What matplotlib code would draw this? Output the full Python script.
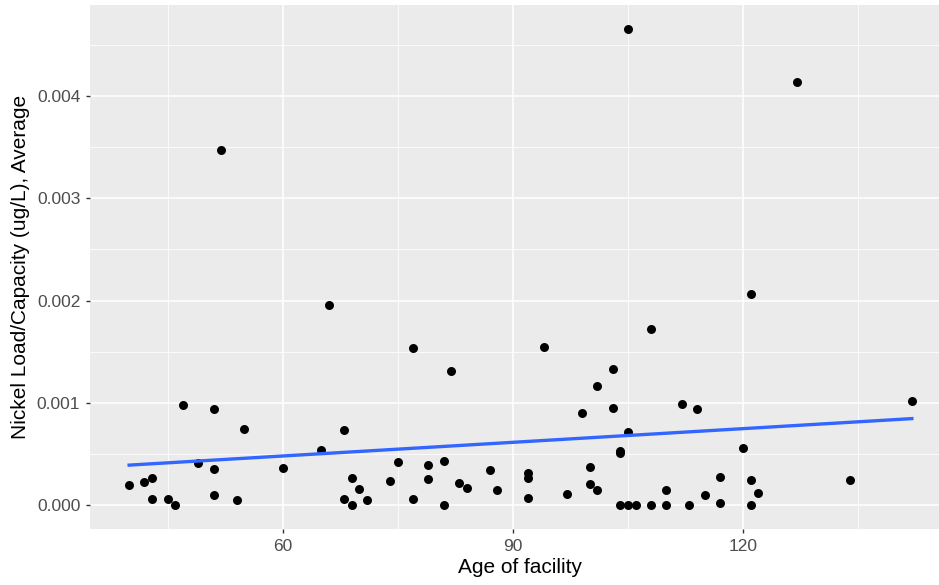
import numpy as np
import matplotlib
matplotlib.use("Agg")
import matplotlib.pyplot as plt
from matplotlib.ticker import MultipleLocator

# data
age = [40, 42, 43, 43, 45, 46, 47, 49, 51, 51, 51, 52, 54, 55, 60,
       65, 66, 68, 68, 69, 69, 70, 71, 74, 75, 77, 77, 79, 79, 81, 81,
       82, 83, 84, 87, 88, 92, 92, 92, 94, 97, 99, 100, 100, 101, 101,
       103, 103, 104, 104, 104, 105, 106, 105, 105, 108, 108, 110, 110,
       112, 113, 114, 115, 117, 117, 120, 121, 121, 121, 122, 127, 134, 142]
nickel = [0.00020, 0.000225, 0.00027, 0.00006, 0.00006, 0.0, 0.00098, 0.00041,
          0.00094, 0.00035, 0.00010, 0.00347, 0.00005, 0.00074, 0.00036,
          0.00054, 0.00196, 0.00073, 0.00006, 0.00027, 0.0, 0.00016, 0.00005,
          0.00024, 0.00042, 0.00154, 0.00006, 0.00039, 0.00026, 0.00043, 0.0,
          0.00131, 0.00022, 0.00017, 0.00034, 0.00015, 0.00031, 0.00027, 0.00007,
          0.00155, 0.00011, 0.00090, 0.00037, 0.00021, 0.00116, 0.00015,
          0.00133, 0.00095, 0.00053, 0.00051, 0.0, 0.0, 0.0, 0.00072, 0.004655,
          0.00172, 0.0, 0.00015, 0.0, 0.00099, 0.0, 0.00094, 0.00010,
          0.00028, 0.00002, 0.00056, 0.00206, 0.00025, 0.0, 0.00012,
          0.00414, 0.00025, 0.00102]

x = np.array(age, dtype=float)
y = np.array(nickel)

# linear fit like geom_smooth(method="lm", se=FALSE)
slope, intercept = np.polyfit(x, y, 1)
xs = np.array([x.min(), x.max()])

plt.rcParams['font.family'] = ['Liberation Sans', 'DejaVu Sans']

fig = plt.figure(figsize=(9.39, 5.85), dpi=100)
ax = fig.add_axes([90 / 939, 56 / 585, 861 / 939, 524 / 585])
ax.set_facecolor('#EBEBEB')

xr = x.max() - x.min()
yr = y.max() - y.min()
ax.set_xlim(x.min() - 0.05 * xr, x.max() + 0.05 * xr)
ax.set_ylim(y.min() - 0.05 * yr, y.max() + 0.05 * yr)

ax.xaxis.set_major_locator(MultipleLocator(30))
ax.xaxis.set_minor_locator(MultipleLocator(15))
ax.yaxis.set_major_locator(MultipleLocator(0.001))
ax.yaxis.set_minor_locator(MultipleLocator(0.0005))
ax.grid(which='major', color='white', linewidth=1.1)
ax.grid(which='minor', color='white', linewidth=0.55)
ax.set_axisbelow(True)
for s in ax.spines.values():
    s.set_visible(False)

ax.tick_params(which='major', length=3, width=1, color='#333333',
               labelsize=12.5, labelcolor='#4D4D4D', pad=4)
ax.tick_params(which='minor', length=0)
ax.yaxis.set_major_formatter(plt.FuncFormatter(lambda v, p: f'{v:.3f}'))

ax.scatter(x, y, s=42, color='black', zorder=3, linewidths=0)
ax.plot(xs, intercept + slope * xs, color='#3366FF', linewidth=2.4, zorder=4)

ax.set_xlabel('Age of facility', fontsize=15, labelpad=3)
ax.set_ylabel('Nickel Load/Capacity (ug/L), Average', fontsize=15, labelpad=5)

fig.savefig('out.png', dpi=100)
